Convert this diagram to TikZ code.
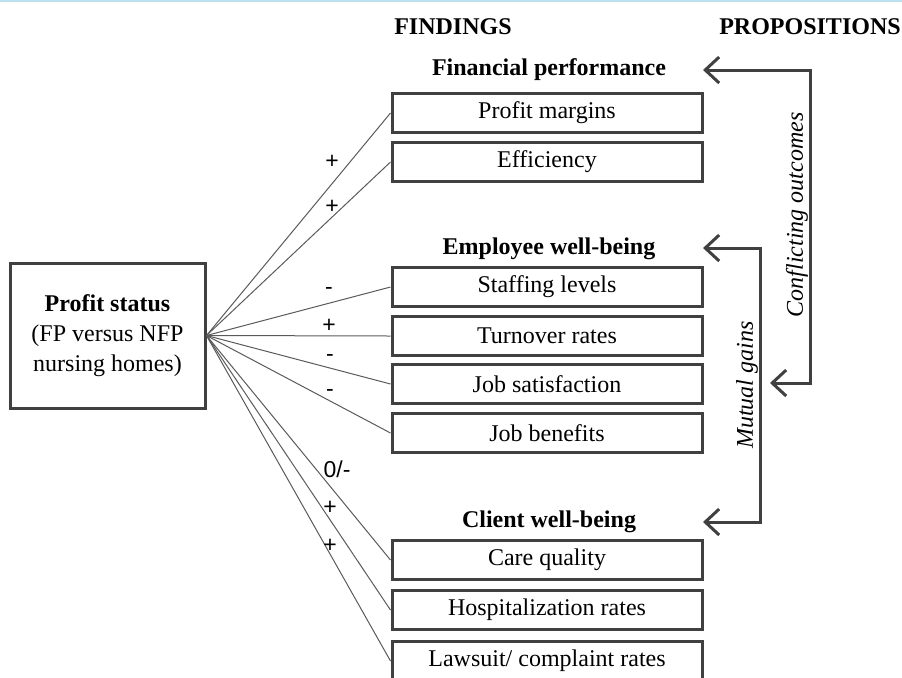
\documentclass[tikz,border=0pt]{standalone}
\usepackage{fontspec}
\setmainfont{Liberation Serif}
\newfontfamily\signfont{Liberation Sans}
\usetikzlibrary{arrows.meta}
\definecolor{boxgray}{RGB}{64,64,64}
\definecolor{linegray}{RGB}{90,90,90}
\definecolor{topblue}{RGB}{190,225,240}
\tikzset{
  itembox/.style={draw=boxgray, line width=1.5pt, minimum width=155pt, minimum height=19.5pt, inner sep=0pt, font=\fontsize{12}{14}\selectfont},
  mainbox/.style={draw=boxgray, line width=1.5pt, minimum width=97.5pt, minimum height=72.5pt, inner sep=0pt, align=center, font=\fontsize{12}{15}\selectfont},
  heading/.style={font=\fontsize{12}{14}\selectfont\bfseries, inner sep=0pt},
  conn/.style={draw=linegray, line width=0.5pt},
  sign/.style={font=\signfont\fontsize{11.5}{12}\selectfont, inner sep=0pt},
  propline/.style={draw=boxgray, line width=1.5pt, {Straight Barb[length=7pt,width=13pt]}-{Straight Barb[length=7pt,width=13pt]}},
  proplabel/.style={font=\fontsize{12}{14}\selectfont\itshape, rotate=90, inner sep=0pt}
}
\begin{document}
\begin{tikzpicture}[x=0.5pt,y=-0.5pt]
\useasboundingbox (0,0) rectangle (902,677);
\clip (0,0) rectangle (902,677);
\draw[topblue, line width=1pt] (0,1) -- (902,1);

\node[heading] (findings) at (453,27) {FINDINGS};
\node[heading] (props) at (810,27) {PROPOSITIONS};

\node[mainbox] (ps) at (107.5,335.5) {\textbf{Profit status}\\(FP versus NFP\\nursing homes)};

\node[heading] (fin) at (549,70) {Financial performance};
\node[itembox] (pm) at (547,113) {Profit margins};
\node[itembox] (eff) at (547,162) {Efficiency};

\node[heading] (emp) at (549,249) {Employee well-being};
\node[itembox] (staff) at (547,287) {Staffing levels};
\node[itembox] (turn) at (547,336) {Turnover rates};
\node[itembox] (jsat) at (547,384) {Job satisfaction};
\node[itembox] (jben) at (547,433) {Job benefits};

\node[heading] (cli) at (549,522) {Client well-being};
\node[itembox] (care) at (547,560) {Care quality};
\node[itembox] (hosp) at (547,610) {Hospitalization rates};
\node[itembox] (law) at (547,661) {Lawsuit/ complaint rates};

\foreach \t in {pm,eff,staff,turn,jsat,jben,care,hosp,law}
  \draw[conn] (ps.east) -- (\t.west);

\node[sign] (s1) at (332,162) {+};
\node[sign] (s2) at (332,207) {+};
\node[sign] (s3) at (329,291) {-};
\node[sign] (s4) at (329,326) {+};
\node[sign] (s5) at (330,358) {-};
\node[sign] (s6) at (330,393) {-};
\node[sign] (s7) at (337,469) {0/-};
\node[sign] (s8) at (330,508) {+};
\node[sign] (s9) at (330,546) {+};

\coordinate (c1) at (703,70);
\coordinate (c2) at (770,383);
\draw[propline] (c1) -- (810,70) |- (c2);
\node[proplabel] (conf) at (797,215) {Conflicting outcomes};

\coordinate (m1) at (703,248);
\coordinate (m2) at (703,522);
\draw[propline] (m1) -- (760,248) |- (m2);
\node[proplabel] (mut) at (747,385) {Mutual gains};
\end{tikzpicture}
\end{document}
